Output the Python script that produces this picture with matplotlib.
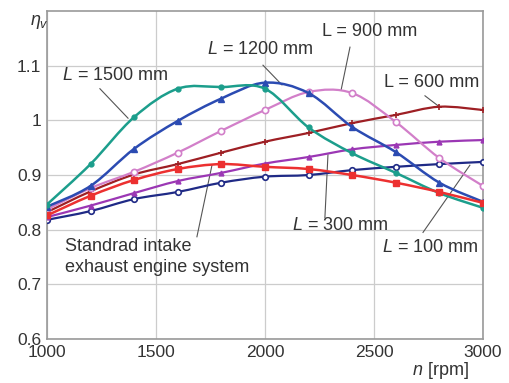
import matplotlib
matplotlib.use("Agg")
from matplotlib import pyplot as plt
from matplotlib.path import Path
from matplotlib.patches import PathPatch

plt.rcParams['font.family'] = ['Liberation Sans', 'DejaVu Sans']
plt.rcParams['mathtext.fontset'] = 'custom'
plt.rcParams['mathtext.it'] = 'Liberation Sans:italic'
plt.rcParams['mathtext.rm'] = 'Liberation Sans'

rpm = [1000, 1200, 1400, 1600, 1800, 2000, 2200, 2400, 2600, 2800, 3000]

l1500 = [0.846, 0.920, 1.006, 1.058, 1.061, 1.058, 0.987, 0.940, 0.904, 0.867, 0.840]
l1200 = [0.842, 0.880, 0.948, 0.999, 1.040, 1.069, 1.050, 0.988, 0.942, 0.886, 0.851]
l900 = [0.837, 0.876, 0.906, 0.941, 0.981, 1.019, 1.052, 1.050, 0.997, 0.931, 0.880]
l600 = [0.832, 0.870, 0.901, 0.920, 0.941, 0.961, 0.977, 0.995, 1.010, 1.025, 1.019]
standard = [0.826, 0.862, 0.891, 0.911, 0.920, 0.915, 0.911, 0.900, 0.886, 0.869, 0.849]
l300 = [0.823, 0.844, 0.867, 0.889, 0.904, 0.921, 0.933, 0.947, 0.955, 0.961, 0.964]
l100 = [0.818, 0.834, 0.856, 0.869, 0.886, 0.897, 0.900, 0.909, 0.915, 0.920, 0.924]

xticks = [1000, 1500, 2000, 2500, 3000]
yticks = [0.6, 0.7, 0.8, 0.9, 1.0, 1.1]
yticklabels = ['0.6', '0.7', '0.8', '0.9', '1', '1.1']

fig = plt.figure(figsize=(5.1, 3.83), dpi=100)
ax = fig.add_axes([0.092, 0.115, 0.855, 0.856])


def smooth_path(xs, ys):
    # catmull-rom through the points, written as bezier segments
    n = len(xs)
    verts = [(xs[0], ys[0])]
    codes = [Path.MOVETO]
    for i in range(n - 1):
        a = max(i - 1, 0)
        b = min(i + 2, n - 1)
        c1 = (xs[i] + (xs[i + 1] - xs[a]) / 6, ys[i] + (ys[i + 1] - ys[a]) / 6)
        c2 = (xs[i + 1] - (xs[b] - xs[i]) / 6, ys[i + 1] - (ys[b] - ys[i]) / 6)
        verts += [c1, c2, (xs[i + 1], ys[i + 1])]
        codes += [Path.CURVE4] * 3
    return Path(verts, codes)


def curve(ys, color, lw, z, **mk):
    ax.add_patch(PathPatch(smooth_path(rpm, ys), fc='none', ec=color, lw=lw, zorder=z))
    ax.plot(rpm, ys, ls='none', color=color, zorder=z, **mk)


curve(l100, '#1f2a86', 1.6, 3, marker='o', ms=4, mfc='white', mew=1.2)
curve(l300, '#9b37b4', 1.6, 3, marker='^', ms=3.5)
curve(standard, '#ec3030', 1.8, 4, marker='s', ms=4.5)
curve(l600, '#9e1f24', 1.6, 3, marker='+', ms=5, mew=1.2)
curve(l900, '#d27fc9', 1.6, 3, marker='o', ms=4.5, mfc='white', mew=1.2)
curve(l1200, '#2b4bb2', 1.8, 3, marker='^', ms=4.5)
curve(l1500, '#1c9e8c', 1.8, 3, marker='o', ms=3.5)

ax.set_xlim(1000, 3000)
ax.set_ylim(0.6, 1.2)
ax.set_xticks(xticks)
ax.set_yticks(yticks)
ax.set_yticklabels(yticklabels)
ax.tick_params(length=0, labelsize=12.5, labelcolor='#333333', pad=4)
ax.grid(True, color='#cccccc', lw=0.9)
for s in ax.spines.values():
    s.set_color('#999999')
    s.set_linewidth(1.2)

tc = '#333333'
lc = '#555555'
fs = 13


def note(txt, tx, ty, x0, y0, x1, y1):
    ax.text(tx, ty, txt, fontsize=fs, color=tc, ha='center', va='center')
    ax.plot([x0, x1], [y0, y1], color=lc, lw=0.8, zorder=2)


note('$L$ = 1500 mm', 1312, 1.083, 1243, 1.058, 1372, 1.004)
note('$L$ = 1200 mm', 1977, 1.129, 1991, 1.101, 2078, 1.065)
note('L = 900 mm', 2482, 1.162, 2390, 1.134, 2349, 1.055)
note('L = 600 mm', 2766, 1.070, 2734, 1.045, 2803, 1.024)
note('$L$ = 300 mm', 2344, 0.807, 2275, 0.822, 2289, 0.937)
note('$L$ = 100 mm', 2757, 0.768, 2725, 0.795, 2940, 0.918)

ax.text(1083, 0.770, 'Standrad intake', fontsize=fs, color=tc, ha='left', va='center')
ax.text(1083, 0.730, 'exhaust engine system', fontsize=fs, color=tc, ha='left', va='center')
ax.plot([1688, 1757], [0.787, 0.918], color=lc, lw=0.8, zorder=2)

ax.text(968, 1.18, r'$\eta_v$', fontsize=13, color=tc, ha='center', va='center', clip_on=False)
ax.text(2803, 0.543, '$n$ [rpm]', fontsize=fs, color=tc, ha='center', va='center', clip_on=False)

fig.savefig('out.png', dpi=100)
